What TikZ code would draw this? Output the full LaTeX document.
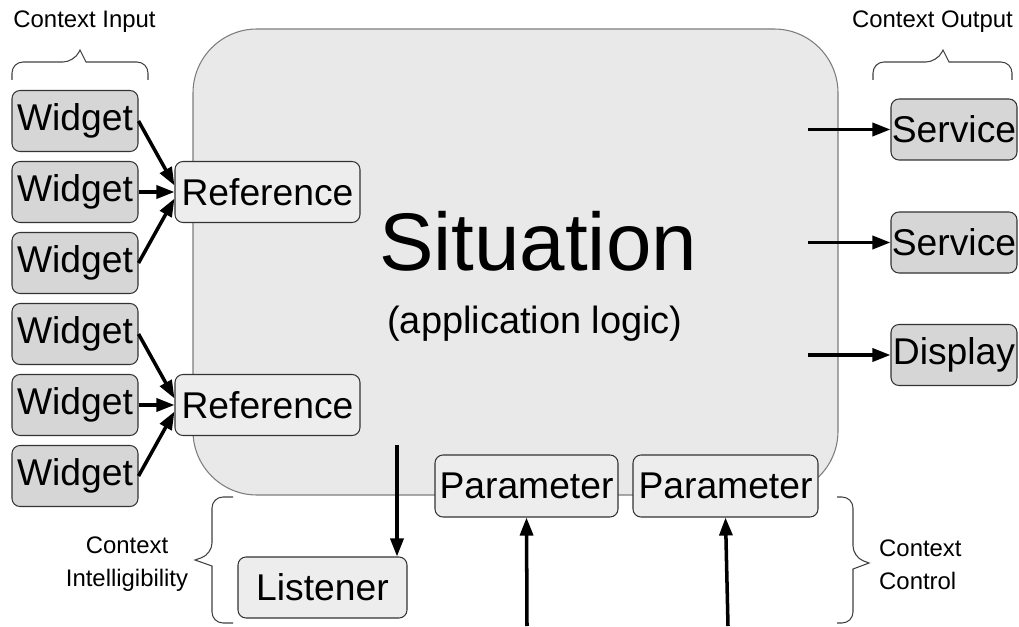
\documentclass[tikz,border=0pt]{standalone}
\usepackage{fontspec}
\setmainfont{Liberation Sans}
\usetikzlibrary{arrows.meta}
\definecolor{widgetfill}{RGB}{214,214,214}
\definecolor{boxfill}{RGB}{237,237,237}
\definecolor{situfill}{RGB}{233,233,233}
\definecolor{situline}{RGB}{125,125,125}
\tikzset{
  widget/.style={draw=black!80, fill=widgetfill, rounded corners=0.16cm, line width=0.6pt,
    minimum width=2.52cm, minimum height=1.22cm, inner sep=0pt,
    font=\fontsize{21.2}{25}\selectfont},
  refbox/.style={widget, fill=boxfill},
  link/.style={line width=2pt, -{Triangle[length=0.36cm,width=0.26cm]}},
  ctxbrace/.style={draw=black!75, line width=0.6pt, rounded corners=0.22cm},
  ctxlabel/.style={font=\fontsize{13.6}{18.5}\selectfont}
}
\begin{document}
\begin{tikzpicture}
\useasboundingbox (0,0) rectangle (20.38,12.52);
% situation
\node (situ) at (10.31,7.28) [draw=situline, fill=situfill, rounded corners=1.28cm,
  minimum width=12.9cm, minimum height=9.32cm, line width=0.6pt] {};
\node (title) at (10.76,7.12) [anchor=base, font=\fontsize{46.5}{52}\selectfont] {Situation};
\node (logic) at (10.7,5.86) [anchor=base, font=\fontsize{21.6}{26}\selectfont] {(application logic)};
%
\node (w1) at (1.5,10.10) [widget] {Widget};
\node (w2) at (1.5,8.68)  [widget] {Widget};
\node (w3) at (1.5,7.26)  [widget] {Widget};
\node (w4) at (1.5,5.84)  [widget] {Widget};
\node (w5) at (1.5,4.42)  [widget] {Widget};
\node (w6) at (1.5,3.00)  [widget] {Widget};
%
\node (ref1) at (5.35,8.68) [refbox, minimum width=3.7cm] {Reference};
\node (ref2) at (5.35,4.42) [refbox, minimum width=3.7cm] {Reference};
%
\node (s1) at (19.08,9.93) [widget] {Service};
\node (s2) at (19.08,7.67) [widget] {Service};
\node (disp) at (19.08,5.42) [widget] {Display};
%
\node (p1) at (10.53,2.80) [refbox, minimum width=3.66cm, minimum height=1.24cm] {Parameter};
\node (p2) at (14.51,2.80) [refbox, minimum width=3.7cm, minimum height=1.24cm] {Parameter};
\node (listener) at (6.45,0.77) [refbox, minimum width=3.38cm] {Listener};
%
\coordinate (o1) at (16.16,9.93);
\coordinate (o2) at (16.16,7.67);
\coordinate (o3) at (16.16,5.42);
\coordinate (c1) at (10.54,0);
\coordinate (c2) at (14.56,0);
\coordinate (l0) at (7.94,3.62);
%
\draw[link] (w1.east) -- ([yshift=0.13cm]ref1.west);
\draw[link] (w2.east) -- (ref1.west);
\draw[link] (w3.east) -- ([yshift=-0.13cm]ref1.west);
\draw[link] (w4.east) -- ([yshift=0.13cm]ref2.west);
\draw[link] (w5.east) -- (ref2.west);
\draw[link] (w6.east) -- ([yshift=-0.13cm]ref2.west);
% 2
\draw[link] (o1) -- (s1.west);
\draw[link] (o2) -- (s2.west);
\draw[link] (o3) -- (disp.west);
\draw[link] (c1) -- (p1.south);
\draw[link] (c2) -- (p2.south);
\draw[link] (l0) -- (l0 |- listener.north);
% braces
\draw[ctxbrace] (0.24,10.92) -- (0.24,11.28) -- (1.48,11.28) [sharp corners] -- (1.6,11.52)
  -- (1.72,11.28) [rounded corners=0.22cm] -- (2.96,11.28) -- (2.96,10.92);
\draw[ctxbrace] (17.46,10.92) -- (17.46,11.28) -- (18.74,11.28) [sharp corners] -- (18.86,11.52)
  -- (18.98,11.28) [rounded corners=0.22cm] -- (20.24,11.28) -- (20.24,10.92);
\draw[ctxbrace] (4.66,2.58) -- (4.24,2.58) -- (4.24,1.44) [sharp corners] -- (3.9,1.32)
  -- (4.24,1.2) [rounded corners=0.22cm] -- (4.24,0.06) -- (4.66,0.06);
\draw[ctxbrace] (16.74,2.58) -- (17.06,2.58) -- (17.06,1.38) [sharp corners] -- (17.38,1.26)
  -- (17.06,1.14) [rounded corners=0.22cm] -- (17.06,0.06) -- (16.74,0.06);
%
\node (inlab)   at (1.69,12.08)  [ctxlabel] {Context Input};
\node (outlab)  at (18.65,12.08) [ctxlabel] {Context Output};
\node (intlab)  at (2.54,1.24)   [ctxlabel, align=center] {Context\\Intelligibility};
\node (ctrllab) at (17.46,1.22)  [ctxlabel, align=left, anchor=west] {Context\\Control};
\end{tikzpicture}
\end{document}
